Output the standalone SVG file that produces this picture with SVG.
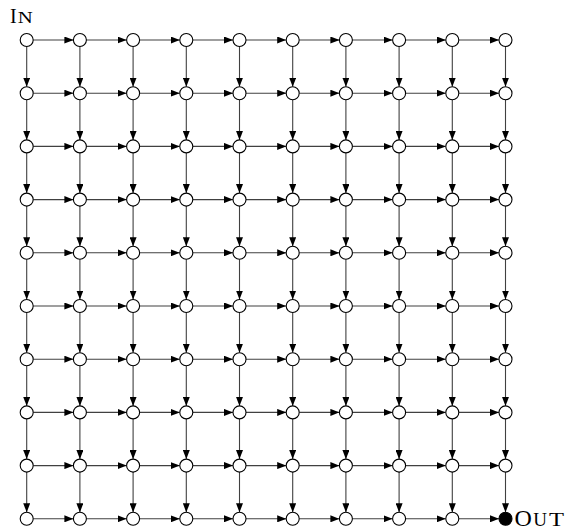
<svg xmlns="http://www.w3.org/2000/svg" width="572" height="526" viewBox="0 0 572 526">
<style>
.e line{stroke:#404040;stroke-width:1.1;marker-end:url(#ah)}
.n circle{fill:#fff;stroke:#000;stroke-width:1.1}
.n circle.out{fill:#000}
text{font-family:"Liberation Serif","Times New Roman",serif;fill:#000}
</style>
<defs>
<marker id="ah" markerUnits="userSpaceOnUse" markerWidth="9" markerHeight="7" refX="9" refY="3.5" orient="auto">
<path d="M0,0 L9,3.5 L0,7 z" fill="#000"/>
</marker>
</defs>
<g id="connectors" class="e">
<g transform="translate(0,40)"><line x1="33.2" x2="73.4"/><line x1="86.4" x2="126.6"/><line x1="139.6" x2="179.8"/><line x1="192.8" x2="233"/><line x1="246" x2="286.2"/><line x1="299.2" x2="339.4"/><line x1="352.4" x2="392.6"/><line x1="405.6" x2="445.8"/><line x1="458.8" x2="499"/></g>
<g transform="translate(0,93.2)"><line x1="33.2" x2="73.4"/><line x1="86.4" x2="126.6"/><line x1="139.6" x2="179.8"/><line x1="192.8" x2="233"/><line x1="246" x2="286.2"/><line x1="299.2" x2="339.4"/><line x1="352.4" x2="392.6"/><line x1="405.6" x2="445.8"/><line x1="458.8" x2="499"/></g>
<g transform="translate(0,146.4)"><line x1="33.2" x2="73.4"/><line x1="86.4" x2="126.6"/><line x1="139.6" x2="179.8"/><line x1="192.8" x2="233"/><line x1="246" x2="286.2"/><line x1="299.2" x2="339.4"/><line x1="352.4" x2="392.6"/><line x1="405.6" x2="445.8"/><line x1="458.8" x2="499"/></g>
<g transform="translate(0,199.6)"><line x1="33.2" x2="73.4"/><line x1="86.4" x2="126.6"/><line x1="139.6" x2="179.8"/><line x1="192.8" x2="233"/><line x1="246" x2="286.2"/><line x1="299.2" x2="339.4"/><line x1="352.4" x2="392.6"/><line x1="405.6" x2="445.8"/><line x1="458.8" x2="499"/></g>
<g transform="translate(0,252.8)"><line x1="33.2" x2="73.4"/><line x1="86.4" x2="126.6"/><line x1="139.6" x2="179.8"/><line x1="192.8" x2="233"/><line x1="246" x2="286.2"/><line x1="299.2" x2="339.4"/><line x1="352.4" x2="392.6"/><line x1="405.6" x2="445.8"/><line x1="458.8" x2="499"/></g>
<g transform="translate(0,306)"><line x1="33.2" x2="73.4"/><line x1="86.4" x2="126.6"/><line x1="139.6" x2="179.8"/><line x1="192.8" x2="233"/><line x1="246" x2="286.2"/><line x1="299.2" x2="339.4"/><line x1="352.4" x2="392.6"/><line x1="405.6" x2="445.8"/><line x1="458.8" x2="499"/></g>
<g transform="translate(0,359.2)"><line x1="33.2" x2="73.4"/><line x1="86.4" x2="126.6"/><line x1="139.6" x2="179.8"/><line x1="192.8" x2="233"/><line x1="246" x2="286.2"/><line x1="299.2" x2="339.4"/><line x1="352.4" x2="392.6"/><line x1="405.6" x2="445.8"/><line x1="458.8" x2="499"/></g>
<g transform="translate(0,412.4)"><line x1="33.2" x2="73.4"/><line x1="86.4" x2="126.6"/><line x1="139.6" x2="179.8"/><line x1="192.8" x2="233"/><line x1="246" x2="286.2"/><line x1="299.2" x2="339.4"/><line x1="352.4" x2="392.6"/><line x1="405.6" x2="445.8"/><line x1="458.8" x2="499"/></g>
<g transform="translate(0,465.6)"><line x1="33.2" x2="73.4"/><line x1="86.4" x2="126.6"/><line x1="139.6" x2="179.8"/><line x1="192.8" x2="233"/><line x1="246" x2="286.2"/><line x1="299.2" x2="339.4"/><line x1="352.4" x2="392.6"/><line x1="405.6" x2="445.8"/><line x1="458.8" x2="499"/></g>
<g transform="translate(0,518.8)"><line x1="33.2" x2="73.4"/><line x1="86.4" x2="126.6"/><line x1="139.6" x2="179.8"/><line x1="192.8" x2="233"/><line x1="246" x2="286.2"/><line x1="299.2" x2="339.4"/><line x1="352.4" x2="392.6"/><line x1="405.6" x2="445.8"/><line x1="458.8" x2="499"/></g>
<g transform="translate(26.7,0)"><line y1="46.5" y2="86.7"/><line y1="99.7" y2="139.9"/><line y1="152.9" y2="193.1"/><line y1="206.1" y2="246.3"/><line y1="259.3" y2="299.5"/><line y1="312.5" y2="352.7"/><line y1="365.7" y2="405.9"/><line y1="418.9" y2="459.1"/><line y1="472.1" y2="512.3"/></g>
<g transform="translate(79.9,0)"><line y1="46.5" y2="86.7"/><line y1="99.7" y2="139.9"/><line y1="152.9" y2="193.1"/><line y1="206.1" y2="246.3"/><line y1="259.3" y2="299.5"/><line y1="312.5" y2="352.7"/><line y1="365.7" y2="405.9"/><line y1="418.9" y2="459.1"/><line y1="472.1" y2="512.3"/></g>
<g transform="translate(133.1,0)"><line y1="46.5" y2="86.7"/><line y1="99.7" y2="139.9"/><line y1="152.9" y2="193.1"/><line y1="206.1" y2="246.3"/><line y1="259.3" y2="299.5"/><line y1="312.5" y2="352.7"/><line y1="365.7" y2="405.9"/><line y1="418.9" y2="459.1"/><line y1="472.1" y2="512.3"/></g>
<g transform="translate(186.3,0)"><line y1="46.5" y2="86.7"/><line y1="99.7" y2="139.9"/><line y1="152.9" y2="193.1"/><line y1="206.1" y2="246.3"/><line y1="259.3" y2="299.5"/><line y1="312.5" y2="352.7"/><line y1="365.7" y2="405.9"/><line y1="418.9" y2="459.1"/><line y1="472.1" y2="512.3"/></g>
<g transform="translate(239.5,0)"><line y1="46.5" y2="86.7"/><line y1="99.7" y2="139.9"/><line y1="152.9" y2="193.1"/><line y1="206.1" y2="246.3"/><line y1="259.3" y2="299.5"/><line y1="312.5" y2="352.7"/><line y1="365.7" y2="405.9"/><line y1="418.9" y2="459.1"/><line y1="472.1" y2="512.3"/></g>
<g transform="translate(292.7,0)"><line y1="46.5" y2="86.7"/><line y1="99.7" y2="139.9"/><line y1="152.9" y2="193.1"/><line y1="206.1" y2="246.3"/><line y1="259.3" y2="299.5"/><line y1="312.5" y2="352.7"/><line y1="365.7" y2="405.9"/><line y1="418.9" y2="459.1"/><line y1="472.1" y2="512.3"/></g>
<g transform="translate(345.9,0)"><line y1="46.5" y2="86.7"/><line y1="99.7" y2="139.9"/><line y1="152.9" y2="193.1"/><line y1="206.1" y2="246.3"/><line y1="259.3" y2="299.5"/><line y1="312.5" y2="352.7"/><line y1="365.7" y2="405.9"/><line y1="418.9" y2="459.1"/><line y1="472.1" y2="512.3"/></g>
<g transform="translate(399.1,0)"><line y1="46.5" y2="86.7"/><line y1="99.7" y2="139.9"/><line y1="152.9" y2="193.1"/><line y1="206.1" y2="246.3"/><line y1="259.3" y2="299.5"/><line y1="312.5" y2="352.7"/><line y1="365.7" y2="405.9"/><line y1="418.9" y2="459.1"/><line y1="472.1" y2="512.3"/></g>
<g transform="translate(452.3,0)"><line y1="46.5" y2="86.7"/><line y1="99.7" y2="139.9"/><line y1="152.9" y2="193.1"/><line y1="206.1" y2="246.3"/><line y1="259.3" y2="299.5"/><line y1="312.5" y2="352.7"/><line y1="365.7" y2="405.9"/><line y1="418.9" y2="459.1"/><line y1="472.1" y2="512.3"/></g>
<g transform="translate(505.5,0)"><line y1="46.5" y2="86.7"/><line y1="99.7" y2="139.9"/><line y1="152.9" y2="193.1"/><line y1="206.1" y2="246.3"/><line y1="259.3" y2="299.5"/><line y1="312.5" y2="352.7"/><line y1="365.7" y2="405.9"/><line y1="418.9" y2="459.1"/><line y1="472.1" y2="512.3"/></g>
</g>
<g id="nodes" class="n">
<g id="r0"><g id="n0_0"><circle cx="26.7" cy="40" r="6.5"/></g><g id="n0_1"><circle cx="79.9" cy="40" r="6.5"/></g><g id="n0_2"><circle cx="133.1" cy="40" r="6.5"/></g><g id="n0_3"><circle cx="186.3" cy="40" r="6.5"/></g><g id="n0_4"><circle cx="239.5" cy="40" r="6.5"/></g><g id="n0_5"><circle cx="292.7" cy="40" r="6.5"/></g><g id="n0_6"><circle cx="345.9" cy="40" r="6.5"/></g><g id="n0_7"><circle cx="399.1" cy="40" r="6.5"/></g><g id="n0_8"><circle cx="452.3" cy="40" r="6.5"/></g><g id="n0_9"><circle cx="505.5" cy="40" r="6.5"/></g></g>
<g id="r1"><g id="n1_0"><circle cx="26.7" cy="93.2" r="6.5"/></g><g id="n1_1"><circle cx="79.9" cy="93.2" r="6.5"/></g><g id="n1_2"><circle cx="133.1" cy="93.2" r="6.5"/></g><g id="n1_3"><circle cx="186.3" cy="93.2" r="6.5"/></g><g id="n1_4"><circle cx="239.5" cy="93.2" r="6.5"/></g><g id="n1_5"><circle cx="292.7" cy="93.2" r="6.5"/></g><g id="n1_6"><circle cx="345.9" cy="93.2" r="6.5"/></g><g id="n1_7"><circle cx="399.1" cy="93.2" r="6.5"/></g><g id="n1_8"><circle cx="452.3" cy="93.2" r="6.5"/></g><g id="n1_9"><circle cx="505.5" cy="93.2" r="6.5"/></g></g>
<g id="r2"><g id="n2_0"><circle cx="26.7" cy="146.4" r="6.5"/></g><g id="n2_1"><circle cx="79.9" cy="146.4" r="6.5"/></g><g id="n2_2"><circle cx="133.1" cy="146.4" r="6.5"/></g><g id="n2_3"><circle cx="186.3" cy="146.4" r="6.5"/></g><g id="n2_4"><circle cx="239.5" cy="146.4" r="6.5"/></g><g id="n2_5"><circle cx="292.7" cy="146.4" r="6.5"/></g><g id="n2_6"><circle cx="345.9" cy="146.4" r="6.5"/></g><g id="n2_7"><circle cx="399.1" cy="146.4" r="6.5"/></g><g id="n2_8"><circle cx="452.3" cy="146.4" r="6.5"/></g><g id="n2_9"><circle cx="505.5" cy="146.4" r="6.5"/></g></g>
<g id="r3"><g id="n3_0"><circle cx="26.7" cy="199.6" r="6.5"/></g><g id="n3_1"><circle cx="79.9" cy="199.6" r="6.5"/></g><g id="n3_2"><circle cx="133.1" cy="199.6" r="6.5"/></g><g id="n3_3"><circle cx="186.3" cy="199.6" r="6.5"/></g><g id="n3_4"><circle cx="239.5" cy="199.6" r="6.5"/></g><g id="n3_5"><circle cx="292.7" cy="199.6" r="6.5"/></g><g id="n3_6"><circle cx="345.9" cy="199.6" r="6.5"/></g><g id="n3_7"><circle cx="399.1" cy="199.6" r="6.5"/></g><g id="n3_8"><circle cx="452.3" cy="199.6" r="6.5"/></g><g id="n3_9"><circle cx="505.5" cy="199.6" r="6.5"/></g></g>
<g id="r4"><g id="n4_0"><circle cx="26.7" cy="252.8" r="6.5"/></g><g id="n4_1"><circle cx="79.9" cy="252.8" r="6.5"/></g><g id="n4_2"><circle cx="133.1" cy="252.8" r="6.5"/></g><g id="n4_3"><circle cx="186.3" cy="252.8" r="6.5"/></g><g id="n4_4"><circle cx="239.5" cy="252.8" r="6.5"/></g><g id="n4_5"><circle cx="292.7" cy="252.8" r="6.5"/></g><g id="n4_6"><circle cx="345.9" cy="252.8" r="6.5"/></g><g id="n4_7"><circle cx="399.1" cy="252.8" r="6.5"/></g><g id="n4_8"><circle cx="452.3" cy="252.8" r="6.5"/></g><g id="n4_9"><circle cx="505.5" cy="252.8" r="6.5"/></g></g>
<g id="r5"><g id="n5_0"><circle cx="26.7" cy="306" r="6.5"/></g><g id="n5_1"><circle cx="79.9" cy="306" r="6.5"/></g><g id="n5_2"><circle cx="133.1" cy="306" r="6.5"/></g><g id="n5_3"><circle cx="186.3" cy="306" r="6.5"/></g><g id="n5_4"><circle cx="239.5" cy="306" r="6.5"/></g><g id="n5_5"><circle cx="292.7" cy="306" r="6.5"/></g><g id="n5_6"><circle cx="345.9" cy="306" r="6.5"/></g><g id="n5_7"><circle cx="399.1" cy="306" r="6.5"/></g><g id="n5_8"><circle cx="452.3" cy="306" r="6.5"/></g><g id="n5_9"><circle cx="505.5" cy="306" r="6.5"/></g></g>
<g id="r6"><g id="n6_0"><circle cx="26.7" cy="359.2" r="6.5"/></g><g id="n6_1"><circle cx="79.9" cy="359.2" r="6.5"/></g><g id="n6_2"><circle cx="133.1" cy="359.2" r="6.5"/></g><g id="n6_3"><circle cx="186.3" cy="359.2" r="6.5"/></g><g id="n6_4"><circle cx="239.5" cy="359.2" r="6.5"/></g><g id="n6_5"><circle cx="292.7" cy="359.2" r="6.5"/></g><g id="n6_6"><circle cx="345.9" cy="359.2" r="6.5"/></g><g id="n6_7"><circle cx="399.1" cy="359.2" r="6.5"/></g><g id="n6_8"><circle cx="452.3" cy="359.2" r="6.5"/></g><g id="n6_9"><circle cx="505.5" cy="359.2" r="6.5"/></g></g>
<g id="r7"><g id="n7_0"><circle cx="26.7" cy="412.4" r="6.5"/></g><g id="n7_1"><circle cx="79.9" cy="412.4" r="6.5"/></g><g id="n7_2"><circle cx="133.1" cy="412.4" r="6.5"/></g><g id="n7_3"><circle cx="186.3" cy="412.4" r="6.5"/></g><g id="n7_4"><circle cx="239.5" cy="412.4" r="6.5"/></g><g id="n7_5"><circle cx="292.7" cy="412.4" r="6.5"/></g><g id="n7_6"><circle cx="345.9" cy="412.4" r="6.5"/></g><g id="n7_7"><circle cx="399.1" cy="412.4" r="6.5"/></g><g id="n7_8"><circle cx="452.3" cy="412.4" r="6.5"/></g><g id="n7_9"><circle cx="505.5" cy="412.4" r="6.5"/></g></g>
<g id="r8"><g id="n8_0"><circle cx="26.7" cy="465.6" r="6.5"/></g><g id="n8_1"><circle cx="79.9" cy="465.6" r="6.5"/></g><g id="n8_2"><circle cx="133.1" cy="465.6" r="6.5"/></g><g id="n8_3"><circle cx="186.3" cy="465.6" r="6.5"/></g><g id="n8_4"><circle cx="239.5" cy="465.6" r="6.5"/></g><g id="n8_5"><circle cx="292.7" cy="465.6" r="6.5"/></g><g id="n8_6"><circle cx="345.9" cy="465.6" r="6.5"/></g><g id="n8_7"><circle cx="399.1" cy="465.6" r="6.5"/></g><g id="n8_8"><circle cx="452.3" cy="465.6" r="6.5"/></g><g id="n8_9"><circle cx="505.5" cy="465.6" r="6.5"/></g></g>
<g id="r9"><g id="n9_0"><circle cx="26.7" cy="518.8" r="6.5"/></g><g id="n9_1"><circle cx="79.9" cy="518.8" r="6.5"/></g><g id="n9_2"><circle cx="133.1" cy="518.8" r="6.5"/></g><g id="n9_3"><circle cx="186.3" cy="518.8" r="6.5"/></g><g id="n9_4"><circle cx="239.5" cy="518.8" r="6.5"/></g><g id="n9_5"><circle cx="292.7" cy="518.8" r="6.5"/></g><g id="n9_6"><circle cx="345.9" cy="518.8" r="6.5"/></g><g id="n9_7"><circle cx="399.1" cy="518.8" r="6.5"/></g><g id="n9_8"><circle cx="452.3" cy="518.8" r="6.5"/></g><g id="n9_9"><circle class="out" cx="505.5" cy="518.8" r="6.5"/></g></g>
</g>
<g id="labels">
<text x="10" y="23" font-size="20">I<tspan font-size="16" dx="1" textLength="15" lengthAdjust="spacingAndGlyphs">N</tspan></text>
<text x="514.5" y="526" font-size="24">O<tspan font-size="19" dx="1.5">U</tspan><tspan font-size="19" dx="2" textLength="15" lengthAdjust="spacingAndGlyphs">T</tspan></text>
</g>
</svg>
